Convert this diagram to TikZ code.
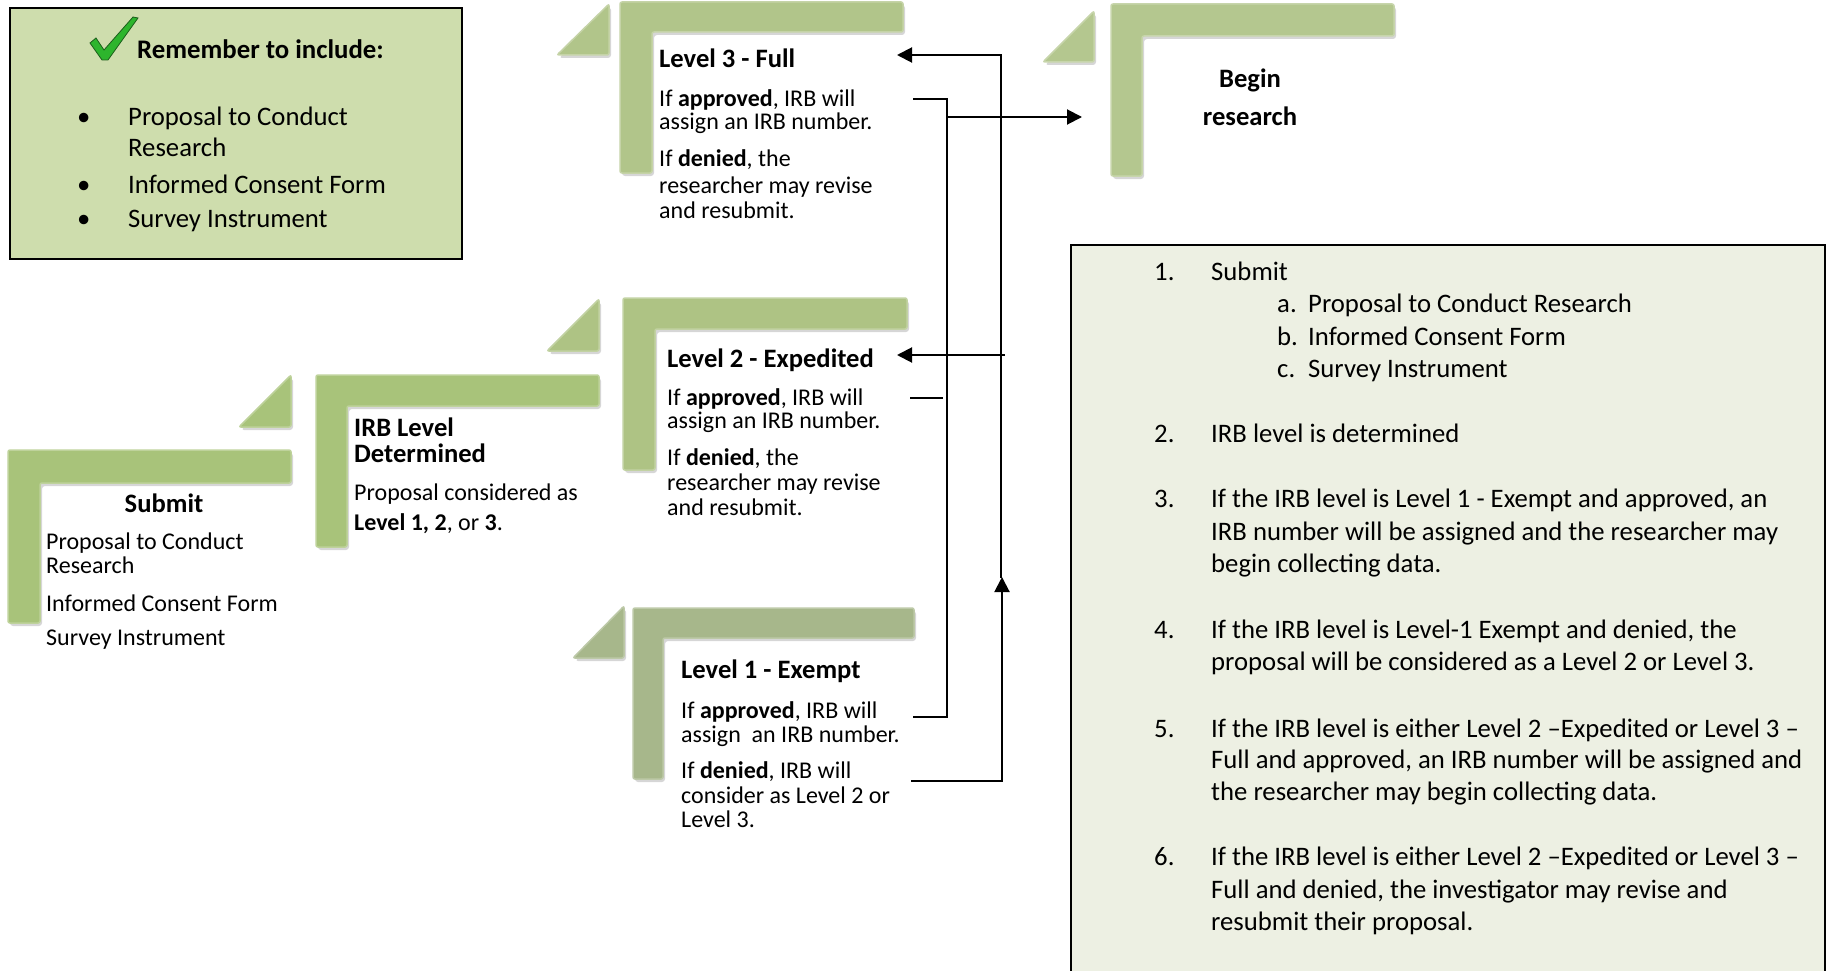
\documentclass[tikz,border=0pt]{standalone}
\usepackage{fontspec}
\setmainfont{Carlito}
\usetikzlibrary{arrows.meta}
\definecolor{remfill}{HTML}{CEDDAD}
\definecolor{listfill}{HTML}{EDF0E3}
\definecolor{stepA}{HTML}{A8C37A}
\definecolor{stepB}{HTML}{AEC384}
\definecolor{stepC}{HTML}{B1C58A}
\definecolor{stepD}{HTML}{A7B78B}
\definecolor{stepE}{HTML}{B4C78F}
\definecolor{checkgreen}{HTML}{2DB52D}
\definecolor{checkdark}{HTML}{1C5E1C}
\newcommand\Lstep[7]{%
  \fill[black,opacity=0.16,rounded corners=3pt,shift={(2,3)}] (#1,#2) -- (#3,#2) -- (#3,#4) -- (#5,#4) -- (#5,#6) -- (#1,#6) -- cycle;
  \fill[#7,draw=#7!75!white,line width=1.5pt,rounded corners=2pt] (#1,#2) -- (#3,#2) -- (#3,#4) -- (#5,#4) -- (#5,#6) -- (#1,#6) -- cycle;}
\newcommand\Tstep[5]{%
  \fill[black,opacity=0.16,rounded corners=3pt,shift={(2,3)}] (#1,#4) -- (#2,#4) -- (#2,#3) -- cycle;
  \fill[#5,draw=#5!75!white,line width=1.5pt,rounded corners=2pt] (#1,#4) -- (#2,#4) -- (#2,#3) -- cycle;}
\tikzset{
  body/.style={font=\fontsize{24}{28}\selectfont,inner sep=0pt,anchor=base west},
  ttl/.style={font=\bfseries\fontsize{26.6}{30}\selectfont,inner sep=0pt,anchor=base west},
  remtxt/.style={font=\fontsize{26.7}{31}\selectfont,inner sep=0pt,anchor=base west},
  listtxt/.style={font=\fontsize{26.7}{31}\selectfont,inner sep=0pt,anchor=base west},
  conn/.style={line width=2pt},
  arr/.style={line width=2pt,-{Triangle[length=15pt,width=15pt]}},
}
\begin{document}
\begin{tikzpicture}[x=1pt,y=-1pt]
\useasboundingbox (0,0) rectangle (1828,971);
% ---------- Remember box ----------
\draw[fill=remfill,line width=2pt] (10,8) rectangle (462,259);
\fill[checkgreen,draw=checkdark,line width=0.8pt] (90,43) -- (96,38) -- (104,50) -- (133,17) -- (138,18) -- (108,60) -- (102,60) -- cycle;
\node[remtxt,font=\bfseries\fontsize{26.8}{31}\selectfont] (remt) at (137,59) {Remember to include:};
\node[remtxt] (rb1) at (77,126) {•};
\node[remtxt] (ri1) at (128,126) {Proposal to Conduct};
\node[remtxt] (ri1b) at (128,157) {Research};
\node[remtxt] (rb2) at (77,193) {•};
\node[remtxt] (ri2) at (128,193) {Informed Consent Form};
\node[remtxt] (rb3) at (77,227) {•};
\node[remtxt] (ri3) at (128,227) {Survey Instrument};
% ---------- Step shapes ----------
\Lstep{8}{450}{291}{483}{40}{623}{stepA}
\Tstep{239}{291}{375}{427}{stepA}
\Lstep{316}{375}{599}{406}{347}{547}{stepA}
\Tstep{547}{599}{299}{351}{stepB}
\Lstep{623}{298}{907}{329}{655}{470}{stepB}
\Tstep{557}{609}{4}{55}{stepC}
\Lstep{620}{2}{903}{32}{652}{173}{stepC}
\Tstep{573}{624}{606}{658}{stepD}
\Lstep{633}{608}{914}{638}{663}{779}{stepD}
\Tstep{1043}{1094}{11}{62}{stepE}
\Lstep{1111}{4}{1394}{36}{1142}{176}{stepE}
% ---------- Submit ----------
\node[ttl,anchor=base] (subt) at (164,512) {Submit};
\node[body] (sub1) at (46,549) {Proposal to Conduct};
\node[body] (sub1b) at (46,573) {Research};
\node[body] (sub2) at (46,611) {Informed Consent Form};
\node[body] (sub3) at (46,645) {Survey Instrument};
% ---------- IRB level ----------
\node[ttl] (irbt) at (354,436) {IRB Level};
\node[ttl] (irbt2) at (354,462) {Determined};
\node[body] (irb1) at (354,500) {Proposal considered as};
\node[body] (irb2) at (354,530) {\textbf{Level 1, 2}, or \textbf{3}.};
% ---------- Level 3 ----------
\node[ttl] (l3t) at (659,68) {Level 3 - Full};
\node[body] (l3a) at (659,107) {If \textbf{approved}, IRB will};
\node[body] (l3b) at (659,130) {assign an IRB number.};
\node[body] (l3c) at (659,167) {If \textbf{denied}, the};
\node[body] (l3d) at (659,193) {researcher may revise};
\node[body] (l3e) at (659,218) {and resubmit.};
% ---------- Level 2 ----------
\node[ttl] (l2t) at (667,367) {Level 2 - Expedited};
\node[body] (l2a) at (667,405) {If \textbf{approved}, IRB will};
\node[body] (l2b) at (667,428) {assign an IRB number.};
\node[body] (l2c) at (667,465) {If \textbf{denied}, the};
\node[body] (l2d) at (667,490) {researcher may revise};
\node[body] (l2e) at (667,515) {and resubmit.};
% ---------- Level 1 ----------
\node[ttl] (l1t) at (681,678) {Level 1 - Exempt};
\node[body] (l1a) at (681,718) {If \textbf{approved}, IRB will};
\node[body] (l1b) at (681,742) {assign\ \ an IRB number.};
\node[body] (l1c) at (681,778) {If \textbf{denied}, IRB will};
\node[body] (l1d) at (681,803) {consider as Level 2 or};
\node[body] (l1e) at (681,827) {Level 3.};
% ---------- Begin research ----------
\node[ttl,anchor=base] (beg1) at (1250,88) {Begin};
\node[ttl,anchor=base] (beg2) at (1250,125) {research};
% ---------- Connectors ----------
\coordinate (l3ap) at (913,99);
\coordinate (l3in) at (897,55);
\coordinate (l2ap) at (910,398);
\coordinate (l2in) at (897,355);
\coordinate (l1ap) at (913,717);
\coordinate (l1dn) at (911,781);
\coordinate (begin) at (1082,117);
\draw[conn] (l3ap) -- (947,99) -- (947,717) -- (l1ap);
\draw[arr] (947,117) -- (begin);
\draw[conn] (l2ap) -- (943,398);
\draw[arr] (l1dn) -- (1002,781) -- (1002,577);
\draw[arr] (1001,578) -- (1001,55) -- (l3in);
\draw[arr] (1005,355) -- (l2in);
% ---------- Right list box ----------
\draw[fill=listfill,line width=2pt] (1071,245) rectangle (1825,990);
\node[listtxt] (n1) at (1154,280) {1.};
\node[listtxt] (t1) at (1211,280) {Submit};
\node[listtxt] (na) at (1277,312) {a.};
\node[listtxt] (ta) at (1308,312) {Proposal to Conduct Research};
\node[listtxt] (nb) at (1277,345) {b.};
\node[listtxt] (tb) at (1308,345) {Informed Consent Form};
\node[listtxt] (nc) at (1277,377) {c.};
\node[listtxt] (tc) at (1308,377) {Survey Instrument};
\node[listtxt] (n2) at (1154,442) {2.};
\node[listtxt] (t2) at (1211,442) {IRB level is determined};
\node[listtxt] (n3) at (1154,507) {3.};
\node[listtxt] (t3a) at (1211,507) {If the IRB level is Level 1 - Exempt and approved, an};
\node[listtxt] (t3b) at (1211,540) {IRB number will be assigned and the researcher may};
\node[listtxt] (t3c) at (1211,572) {begin collecting data.};
\node[listtxt] (n4) at (1154,638) {4.};
\node[listtxt] (t4a) at (1211,638) {If the IRB level is Level-1 Exempt and denied, the};
\node[listtxt] (t4b) at (1211,670) {proposal will be considered as a Level 2 or Level 3.};
\node[listtxt] (n5) at (1154,737) {5.};
\node[listtxt] (t5a) at (1211,737) {If the IRB level is either Level 2 –Expedited or Level 3 –};
\node[listtxt] (t5b) at (1211,768) {Full and approved, an IRB number will be assigned and};
\node[listtxt] (t5c) at (1211,800) {the researcher may begin collecting data.};
\node[listtxt] (n6) at (1154,865) {6.};
\node[listtxt] (t6a) at (1211,865) {If the IRB level is either Level 2 –Expedited or Level 3 –};
\node[listtxt] (t6b) at (1211,898) {Full and denied, the investigator may revise and};
\node[listtxt] (t6c) at (1211,930) {resubmit their proposal.};
\end{tikzpicture}
\end{document}
